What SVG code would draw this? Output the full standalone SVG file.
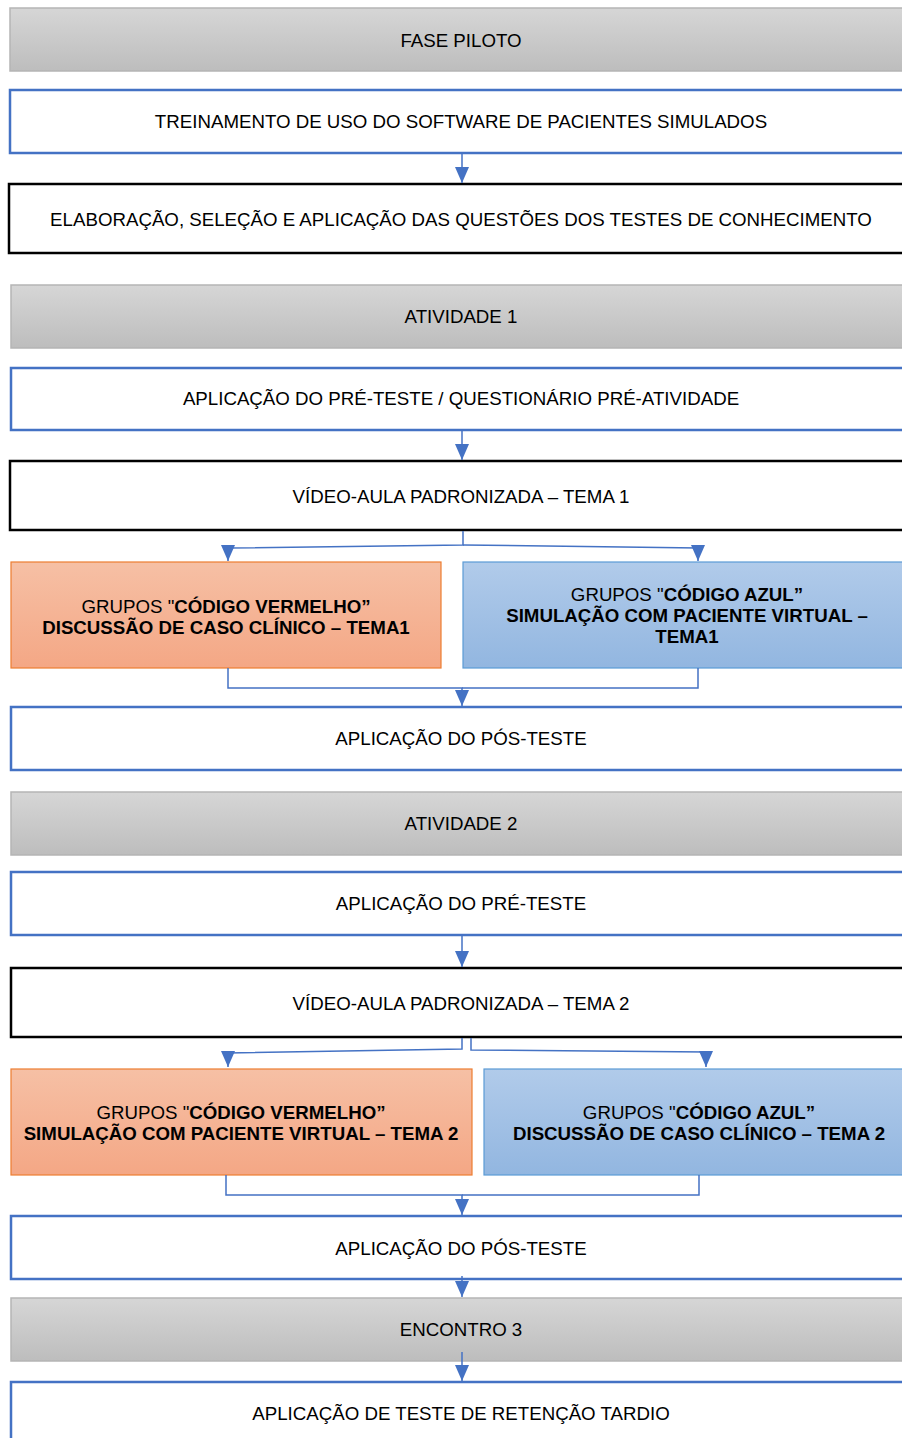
<svg xmlns="http://www.w3.org/2000/svg" width="902" height="1438" viewBox="0 0 902 1438">
<defs>
<linearGradient id="gGray" x1="0" y1="0" x2="0" y2="1"><stop offset="0" stop-color="#d6d6d6"/><stop offset="1" stop-color="#bdbdbd"/></linearGradient>
<linearGradient id="gOrange" x1="0" y1="0" x2="0" y2="1"><stop offset="0" stop-color="#f6c0a5"/><stop offset="1" stop-color="#f4a785"/></linearGradient>
<linearGradient id="gBlue" x1="0" y1="0" x2="0" y2="1"><stop offset="0" stop-color="#b1cbea"/><stop offset="1" stop-color="#92b6e0"/></linearGradient>
<marker id="arr" markerUnits="userSpaceOnUse" markerWidth="16" markerHeight="16" viewBox="0 0 16 16" refX="16" refY="8" orient="auto"><path d="M0,1 L16,8 L0,15 Z" fill="#4472c4"/></marker>
<style>
.gray{fill:url(#gGray);stroke:#b5b5b5;stroke-width:1.5}
.blue{fill:#fff;stroke:#4472c4;stroke-width:2.5}
.black{fill:#fff;stroke:#000;stroke-width:2.5}
.or{fill:url(#gOrange);stroke:#ed7d31;stroke-width:1.2}
.bl{fill:url(#gBlue);stroke:#5b9bd5;stroke-width:1.2}
text{font-family:"Liberation Sans",Arial,sans-serif;font-size:18.7px;fill:#000;text-anchor:middle}
.b{font-weight:bold}
.c{fill:none;stroke:#4472c4;stroke-width:1.5}
</style>
</defs>
<g id="fase-piloto"><rect class="gray" x="10" y="8" width="902" height="63"/><text x="461" y="47">FASE PILOTO</text></g>
<g id="treinamento"><rect class="blue" x="10" y="90" width="902" height="63"/><text x="461" y="128">TREINAMENTO DE USO DO SOFTWARE DE PACIENTES SIMULADOS</text></g>
<g id="elaboracao"><rect class="black" x="9" y="184" width="904" height="69"/><text x="461" y="226">ELABORAÇÃO, SELEÇÃO E APLICAÇÃO DAS QUESTÕES DOS TESTES DE CONHECIMENTO</text></g>
<g id="atividade1"><rect class="gray" x="11" y="285" width="902" height="63"/><text x="461" y="323">ATIVIDADE 1</text></g>
<g id="pre-teste1"><rect class="blue" x="11" y="368" width="902" height="62"/><text x="461" y="405">APLICAÇÃO DO PRÉ-TESTE / QUESTIONÁRIO PRÉ-ATIVIDADE</text></g>
<g id="video1"><rect class="black" x="10" y="461" width="904" height="69"/><text x="461" y="503">VÍDEO-AULA PADRONIZADA – TEMA 1</text></g>
<g id="vermelho1"><rect class="or" x="11" y="562" width="430" height="106"/><text x="226" y="613">GRUPOS "<tspan class="b">CÓDIGO VERMELHO”</tspan></text><text class="b" x="226" y="634">DISCUSSÃO DE CASO CLÍNICO – TEMA1</text></g>
<g id="azul1"><rect class="bl" x="463" y="562" width="450" height="106"/><text x="687" y="601">GRUPOS "<tspan class="b">CÓDIGO AZUL”</tspan></text><text class="b" x="687" y="622">SIMULAÇÃO COM PACIENTE VIRTUAL –</text><text class="b" x="687" y="643">TEMA1</text></g>
<g id="pos-teste1"><rect class="blue" x="11" y="707" width="902" height="63"/><text x="461" y="745">APLICAÇÃO DO PÓS-TESTE</text></g>
<g id="atividade2"><rect class="gray" x="11" y="792" width="902" height="63"/><text x="461" y="830">ATIVIDADE 2</text></g>
<g id="pre-teste2"><rect class="blue" x="11" y="872" width="902" height="63"/><text x="461" y="910">APLICAÇÃO DO PRÉ-TESTE</text></g>
<g id="video2"><rect class="black" x="11" y="968" width="904" height="69"/><text x="461" y="1010">VÍDEO-AULA PADRONIZADA – TEMA 2</text></g>
<g id="vermelho2"><rect class="or" x="11" y="1069" width="461" height="106"/><text x="241" y="1119">GRUPOS "<tspan class="b">CÓDIGO VERMELHO”</tspan></text><text class="b" x="241" y="1140">SIMULAÇÃO COM PACIENTE VIRTUAL – TEMA 2</text></g>
<g id="azul2"><rect class="bl" x="484" y="1069" width="430" height="106"/><text x="699" y="1119">GRUPOS "<tspan class="b">CÓDIGO AZUL”</tspan></text><text class="b" x="699" y="1140">DISCUSSÃO DE CASO CLÍNICO – TEMA 2</text></g>
<g id="pos-teste2"><rect class="blue" x="11" y="1216" width="902" height="63"/><text x="461" y="1255">APLICAÇÃO DO PÓS-TESTE</text></g>
<g id="encontro3"><rect class="gray" x="11" y="1298" width="902" height="63"/><text x="461" y="1336">ENCONTRO 3</text></g>
<g id="retencao"><rect class="blue" x="11" y="1382" width="902" height="70"/><text x="461" y="1420">APLICAÇÃO DE TESTE DE RETENÇÃO TARDIO</text></g>
<g id="connectors">
<path class="c" d="M462,153 V183" marker-end="url(#arr)"/>
<path class="c" d="M462,430 V460" marker-end="url(#arr)"/>
<path class="c" d="M463,531 V545 L228,548 V561" marker-end="url(#arr)"/>
<path class="c" d="M463,545 L698,548 V561" marker-end="url(#arr)"/>
<path class="c" d="M228,668 V688 H462 V706" marker-end="url(#arr)"/>
<path class="c" d="M698,668 V688 H462"/>
<path class="c" d="M462,935 V967" marker-end="url(#arr)"/>
<path class="c" d="M462,1038 V1049 L228,1053 V1067" marker-end="url(#arr)"/>
<path class="c" d="M471,1038 V1050 L706,1052 V1067" marker-end="url(#arr)"/>
<path class="c" d="M226,1175 V1195 H462 V1215" marker-end="url(#arr)"/>
<path class="c" d="M699,1175 V1195 H462"/>
<path class="c" d="M462,1276 V1297" marker-end="url(#arr)"/>
<path class="c" d="M462,1352 V1381" marker-end="url(#arr)"/>
</g>
</svg>
